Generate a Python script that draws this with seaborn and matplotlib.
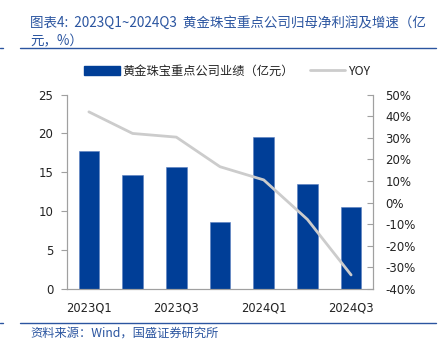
import matplotlib
matplotlib.use("Agg")
import matplotlib.pyplot as plt
import seaborn as sns
import pandas as pd
import numpy as np
from matplotlib.patches import Patch
from matplotlib.lines import Line2D
from matplotlib.ticker import FuncFormatter, MultipleLocator

quarters = ["2023Q1", "2023Q2", "2023Q3", "2023Q4", "2024Q1", "2024Q2", "2024Q3"]
profit = [17.8, 14.7, 15.7, 8.6, 19.6, 13.5, 10.5]
yoy = [42.0, 32.0, 30.3, 16.6, 10.5, -7.8, -33.5]
shown_labels = ["2023Q1", "", "2023Q3", "", "2024Q1", "", "2024Q3"]

bar_label = "黄金珠宝重点公司业绩（亿元）"
line_label = "YOY"
title = "图表4:  2023Q1~2024Q3  黄金珠宝重点公司归母净利润及增速（亿\n元，%）"
source = "资料来源：Wind，国盛证券研究所"

sns.set_theme(style="white")
plt.rcParams['font.family'] = ['Noto Sans CJK SC', 'DejaVu Sans']

BLUE = "#003E97"
GRAY_LINE = "#CCCCCC"
AX_GRAY = "#A0A0A0"
TITLE_BLUE = "#2B55A0"

df = pd.DataFrame({"quarter": quarters, "profit": profit, "yoy": yoy, "pos": np.arange(len(quarters))})

fig = plt.figure(figsize=(4.44, 3.49), dpi=100)
ax = fig.add_axes([0.151, 0.172, 0.689, 0.557])

sns.barplot(data=df, x="quarter", y="profit", color=BLUE, saturation=1, width=0.47,
            edgecolor="#5a7fc0", linewidth=0.4, ax=ax)
ax.set_ylim(0, 25)
ax.set_xlim(-0.5, 6.5)
ax.yaxis.set_major_locator(MultipleLocator(5))
ax.set_xlabel("")
ax.set_ylabel("")

ax2 = ax.twinx()
sns.lineplot(data=df, x="pos", y="yoy", color=GRAY_LINE, linewidth=2.0, ax=ax2,
             solid_capstyle="round", legend=False)
ax2.set_ylim(-40, 50)
ax2.yaxis.set_major_locator(MultipleLocator(10))
ax2.yaxis.set_major_formatter(FuncFormatter(lambda v, p: f"{v:.0f}%"))
ax2.set_ylabel("")
ax2.set_xlabel("")
ax2.set_xlim(-0.5, 6.5)

# spines
for a in (ax, ax2):
    a.spines["top"].set_visible(False)
    for s in ("left", "right", "bottom"):
        a.spines[s].set_color(AX_GRAY)
        a.spines[s].set_linewidth(0.8)

ax.set_xticks(range(len(quarters)))
ax.set_xticklabels(shown_labels, fontsize=8.3, family='DejaVu Sans', color="#222222")
ax.set_xticks(np.arange(-0.5, 7, 1), minor=True)
ax.tick_params(axis="x", which="major", length=0, pad=9)
ax.tick_params(axis="x", which="minor", direction="in", length=4, color=AX_GRAY, width=0.8)
ax.tick_params(axis="y", which="major", direction="out", length=4, color=AX_GRAY, width=0.8,
               labelsize=8.5, labelcolor="#222222", pad=6)
ax2.tick_params(axis="y", which="major", direction="in", length=4, color=AX_GRAY, width=0.8,
                labelsize=8.5, labelcolor="#222222", pad=9)
for lbl in ax.get_yticklabels() + ax2.get_yticklabels():
    lbl.set_family('DejaVu Sans')

# legend
handles = [Patch(facecolor=BLUE, edgecolor=BLUE, label=bar_label),
           Line2D([0], [0], color=GRAY_LINE, linewidth=2.0, label=line_label)]
leg = fig.legend(handles=handles, loc="center", bbox_to_anchor=(0.512, 0.796), ncol=2,
                 frameon=False, fontsize=8.8, handlelength=2.9, handleheight=0.7,
                 columnspacing=1.3, handletextpad=0.25)
for t in leg.get_texts():
    t.set_color("#222222")

# title and source
fig.text(0.068, 0.955, title, fontsize=9.75, color=TITLE_BLUE, ha="left", va="top",
         linespacing=1.45, style="italic")
fig.add_artist(Line2D([0.045, 0.982], [0.862, 0.862], color=TITLE_BLUE, linewidth=1.0))
fig.add_artist(Line2D([0.045, 0.982], [0.074, 0.074], color=TITLE_BLUE, linewidth=1.0))
fig.add_artist(Line2D([0.0, 0.006], [0.862, 0.862], color=TITLE_BLUE, linewidth=1.0))
fig.add_artist(Line2D([0.0, 0.006], [0.074, 0.074], color=TITLE_BLUE, linewidth=1.0))
fig.text(0.068, 0.045, source, fontsize=8.8, color=TITLE_BLUE, ha="left", va="center", style="italic")

fig.savefig("out.png", dpi=100)
